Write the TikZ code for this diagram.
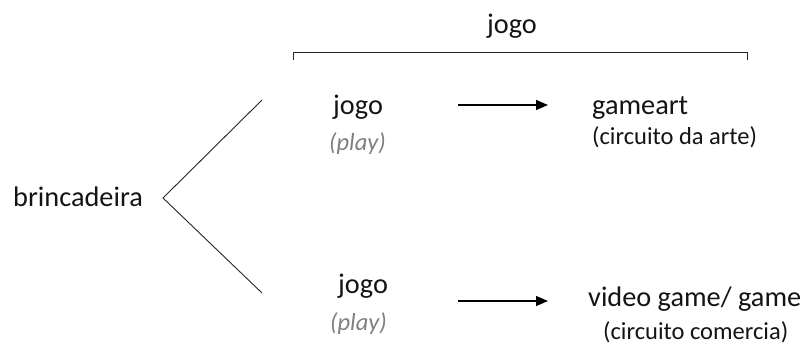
\documentclass[tikz,border=0pt]{standalone}
\usepackage{fontspec}
\setmainfont{Carlito}
\usetikzlibrary{arrows.meta}
\begin{document}
\begin{tikzpicture}[x=1pt,y=-1pt,
  big/.style={font=\fontsize{28.3}{30}\selectfont, inner sep=0pt, anchor=base west, text=black!92},
  small/.style={font=\fontsize{24.5}{26}\selectfont, inner sep=0pt, anchor=base west, text=black!92},
  playlbl/.style={font=\fontsize{24.5}{26}\selectfont\itshape, inner sep=0pt, anchor=base west, text=black!50},
  thinline/.style={line width=0.9pt, draw=black!85},
  arr/.style={line width=1.3pt, draw=black, -{Triangle[length=12pt,width=10pt]}}]
\useasboundingbox[fill=white] (0,0) rectangle (808,347);

% heading over the bracket
\node[big, anchor=base] (top) at (512,34) {jogo};
\coordinate (bl) at (293,60);
\coordinate (br) at (747,60);
\draw[thinline] (bl) -- (293,52) -- (747,52) -- (br);

% root and its two branches
\node[big] (root) at (13,207) {brincadeira};
\coordinate (vtx) at (163,198);
\coordinate (up) at (262,100);
\coordinate (dn) at (262,293);
\draw[thinline] (up) -- (vtx) -- (dn);

% upper branch
\node[big] (j1) at (333,115) {jogo};
\node[playlbl] (p1) at (329,151) {(play)};
\coordinate (a1s) at (458,105);
\coordinate (a1e) at (548,105);
\draw[arr] (a1s) -- (a1e);
\node[big] (g1) at (592,115) {gameart};
\node[small] (c1) at (592,145) {(circuito da arte)};

% lower branch
\node[big] (j2) at (338,293) {jogo};
\node[playlbl] (p2) at (330,330) {(play)};
\coordinate (a2s) at (458,301);
\coordinate (a2e) at (548,301);
\draw[arr] (a2s) -- (a2e);
\node[big] (g2) at (588,306) {video game/ game};
\node[small] (c2) at (603,339) {(circuito comercia)};
\end{tikzpicture}
\end{document}
